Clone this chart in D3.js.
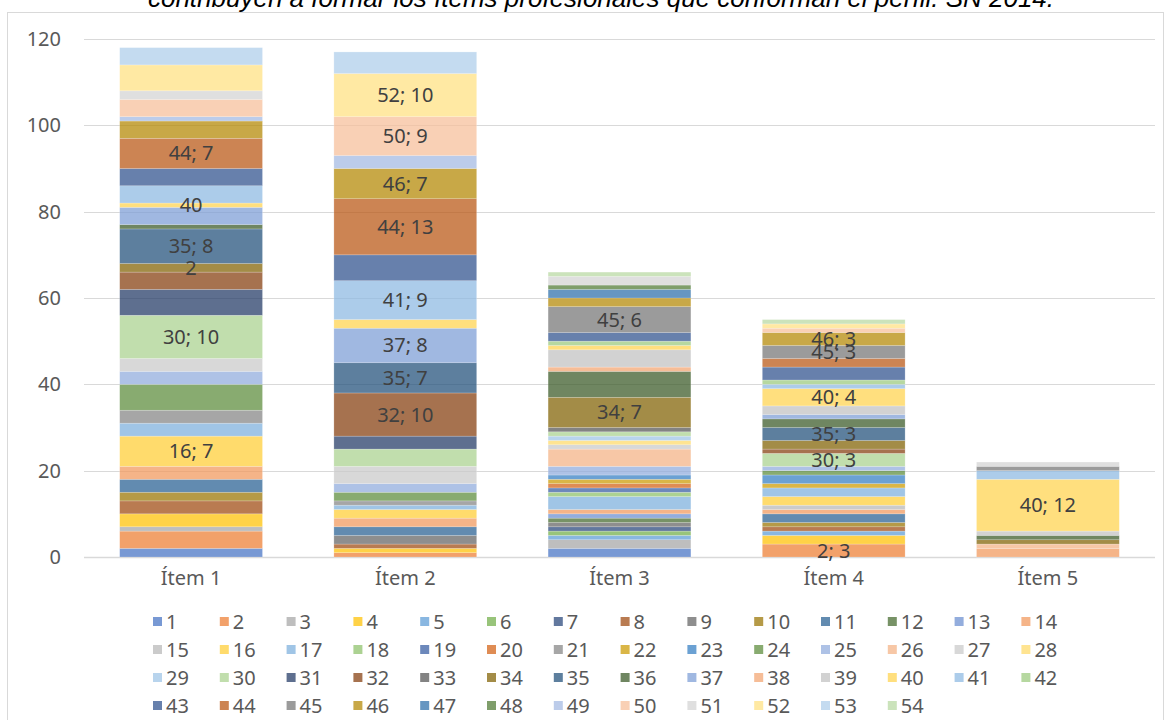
<!DOCTYPE html>
<html>
<head>
<meta charset="utf-8">
<script src="https://cdn.jsdelivr.net/npm/d3@7"></script>
<style>
  body { margin: 0; background: #fff; }
  text { font-family: "Noto Sans", "Open Sans", sans-serif; }
</style>
</head>
<body>
<div class="chart"></div>
<script>
// Stacked columns: how many times each of the 54 items appears per professional item
var categories = ["Ítem 1", "Ítem 2", "Ítem 3", "Ítem 4", "Ítem 5"];
var seriesNames = d3.range(1, 55).map(String);

// values for series 1..54 (six per line)
var item1 = [
  2, 4, 1, 3, 0, 0,
  0, 3, 0, 2, 3, 0,
  0, 3, 0, 7, 3, 0,
  0, 0, 3, 0, 0, 6,
  3, 0, 3, 0, 0, 10,
  6, 4, 0, 2, 8, 1,
  4, 0, 0, 1, 4, 0,
  4, 7, 0, 4, 0, 0,
  1, 4, 2, 6, 4, 0
];
var item2 = [
  0, 1, 0, 1, 0, 0,
  0, 1, 2, 0, 2, 0,
  0, 2, 0, 2, 1, 0,
  0, 0, 1, 0, 0, 2,
  2, 0, 4, 0, 0, 4,
  3, 10, 0, 0, 7, 0,
  8, 0, 0, 2, 9, 0,
  6, 13, 0, 7, 0, 0,
  3, 9, 0, 10, 5, 0
];
var item3 = [
  2, 0, 2, 0, 1, 1,
  1, 0, 1, 0, 0, 1,
  1, 1, 0, 0, 3, 1,
  1, 1, 0, 1, 1, 0,
  2, 4, 1, 1, 1, 1,
  0, 0, 1, 7, 0, 6,
  0, 1, 4, 1, 0, 1,
  2, 0, 6, 2, 2, 1,
  0, 0, 2, 0, 0, 1
];
var item4 = [
  0, 3, 0, 2, 1, 0,
  0, 1, 0, 1, 2, 0,
  0, 1, 1, 2, 2, 0,
  0, 0, 0, 1, 2, 1,
  1, 0, 0, 0, 0, 3,
  0, 1, 0, 2, 3, 2,
  1, 0, 2, 4, 1, 1,
  3, 2, 3, 3, 0, 0,
  0, 1, 0, 1, 0, 1
];
var item5 = [
  0, 0, 0, 0, 0, 0,
  0, 0, 0, 0, 0, 0,
  0, 2, 0, 0, 0, 0,
  0, 0, 0, 0, 0, 0,
  0, 1, 0, 0, 0, 0,
  0, 0, 0, 1, 0, 1,
  0, 0, 1, 12, 2, 0,
  0, 0, 1, 0, 0, 0,
  0, 0, 1, 0, 0, 0
];
var itemValues = [item1, item2, item3, item4, item5];

// data labels shown in the original: [series, text]
var item1Labels = [[44, "44; 7"], [40, "40"], [35, "35; 8"], [34, "2"], [30, "30; 10"], [16, "16; 7"]];
var item2Labels = [[52, "52; 10"], [50, "50; 9"], [46, "46; 7"], [44, "44; 13"], [41, "41; 9"], [37, "37; 8"], [35, "35; 7"], [32, "32; 10"]];
var item3Labels = [[45, "45; 6"], [34, "34; 7"]];
var item4Labels = [[46, "46; 3"], [45, "45; 3"], [40, "40; 4"], [35, "35; 3"], [30, "30; 3"], [2, "2; 3"]];
var item5Labels = [[40, "40; 12"]];
var itemLabels = [item1Labels, item2Labels, item3Labels, item4Labels, item5Labels];

var yTicks = [0, 20, 40, 60, 80, 100, 120];
var titleText = "contribuyen a formar los ítems profesionales que conforman el perfil. SN 2014.";

// office palette, 9 luminance variations of the 6 accents
var accents = ["#4472C4", "#ED7D31", "#A5A5A5", "#FFC000", "#5B9BD5", "#70AD47"];
var lumVariants = [[1, 0], [0.6, 0], [0.8, 0.2], [0.8, 0], [0.6, 0.4], [0.5, 0], [0.7, 0.3], [0.7, 0], [0.5, 0.5]];

function seriesColor(i) {
  var c = d3.hsl(accents[i % 6]);
  var v = lumVariants[Math.floor(i / 6)];
  c.l = c.l * v[0] + v[1];
  return c.formatHex();
}

var svgWidth = 1173, svgHeight = 720;
var plot = { left: 84, right: 1155, top: 39, bottom: 557 };
var fillAlpha = 0.72;

var svg = d3.select(".chart").append("svg")
  .attr("width", svgWidth)
  .attr("height", svgHeight);

// outer chart border
svg.append("rect")
  .attr("x", 7.5).attr("y", 12.5)
  .attr("width", 1156).attr("height", 720)
  .attr("fill", "none")
  .attr("stroke", "#D9D9D9");

// title (cut at the top edge in the original)
svg.append("text")
  .attr("x", 601).attr("y", 7)
  .attr("text-anchor", "middle")
  .style("font-family", "'Liberation Sans', Arial, sans-serif")
  .style("font-style", "italic")
  .style("font-size", "26px")
  .attr("fill", "#000")
  .text(titleText);

var x = d3.scaleBand()
  .domain(categories)
  .range([plot.left, plot.right])
  .paddingInner(1 / 3)
  .paddingOuter(1 / 6);

var y = d3.scaleLinear()
  .domain([0, 120])
  .range([plot.bottom, plot.top]);

// gridlines
svg.append("g").selectAll("line")
  .data(yTicks)
  .enter().append("line")
  .attr("x1", plot.left).attr("x2", plot.right)
  .attr("y1", d => Math.round(y(d)) + 0.5)
  .attr("y2", d => Math.round(y(d)) + 0.5)
  .attr("stroke", "#D9D9D9")
  .attr("stroke-width", d => d === 0 ? 1.5 : 1);

// y axis labels
var yAxis = svg.append("g")
  .attr("transform", `translate(${plot.left}, 0)`)
  .call(d3.axisLeft(y).tickValues(yTicks).tickSize(0).tickPadding(23));
yAxis.select(".domain").remove();
yAxis.selectAll("text")
  .style("font-size", "20px")
  .attr("fill", "#595959");

// x axis labels
var xAxis = svg.append("g")
  .attr("transform", `translate(0, ${plot.bottom})`)
  .call(d3.axisBottom(x).tickSize(0).tickPadding(14));
xAxis.select(".domain").remove();
xAxis.selectAll("text")
  .style("font-size", "20px")
  .attr("fill", "#595959");

// table for d3.stack
var rows = categories.map(function (cat, ci) {
  var row = { cat: cat };
  seriesNames.forEach(function (s, si) { row[s] = itemValues[ci][si]; });
  return row;
});

var stacked = d3.stack().keys(seriesNames)(rows);

var layers = svg.append("g").selectAll("g")
  .data(stacked)
  .enter().append("g")
  .attr("fill", (d, i) => seriesColor(i))
  .attr("fill-opacity", fillAlpha);

layers.selectAll("rect")
  .data(d => d.filter(p => p[1] > p[0]))
  .enter().append("rect")
  .attr("x", d => x(d.data.cat))
  .attr("width", x.bandwidth())
  .attr("y", d => y(d[1]))
  .attr("height", d => y(d[0]) - y(d[1]))
  .attr("stroke", "#fff")
  .attr("stroke-opacity", 0.35)
  .attr("stroke-width", 0.6);

// data labels
var labelData = [];
itemLabels.forEach(function (list, ci) {
  list.forEach(function (l) {
    var seg = stacked[l[0] - 1][ci];
    labelData.push({ cat: categories[ci], mid: (seg[0] + seg[1]) / 2, text: l[1] });
  });
});

svg.append("g").selectAll("text")
  .data(labelData)
  .enter().append("text")
  .attr("x", d => x(d.cat) + x.bandwidth() / 2)
  .attr("y", d => y(d.mid))
  .attr("dy", "0.35em")
  .attr("text-anchor", "middle")
  .style("font-size", "20px")
  .attr("fill", "#404040")
  .text(d => d.text);

// legend, 14 per row
var legend = svg.append("g").selectAll("g")
  .data(seriesNames)
  .enter().append("g")
  .attr("transform", (d, i) => `translate(${153 + (i % 14) * 66.8}, ${622 + Math.floor(i / 14) * 28})`);

legend.append("rect")
  .attr("x", 0).attr("y", -5)
  .attr("width", 9).attr("height", 9)
  .attr("fill", (d, i) => seriesColor(i))
  .attr("fill-opacity", fillAlpha);

legend.append("text")
  .attr("x", 13).attr("y", 0)
  .attr("dy", "0.35em")
  .style("font-size", "20px")
  .attr("fill", "#595959")
  .text(d => d);
</script>
</body>
</html>
